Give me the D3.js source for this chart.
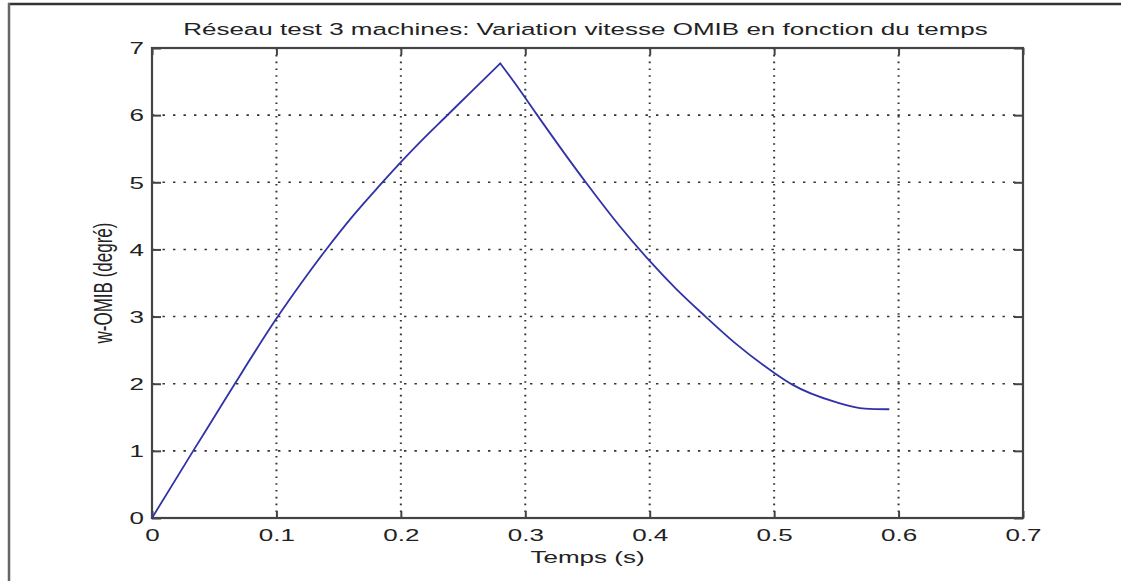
<!DOCTYPE html>
<html>
<head>
<meta charset="utf-8">
<script src="https://cdn.jsdelivr.net/npm/d3@7"></script>
<style>
  html, body { margin: 0; padding: 0; background: #fff; }
  svg { display: block; }
  text { font-family: "Liberation Sans", Arial, Helvetica, sans-serif; fill: #222; }
</style>
</head>
<body>
<svg id="chart" width="1121" height="581"></svg>
<script>
// OMIB speed deviation over time (3-machine test network)
const timeS = [0, 0.0331, 0.0519, 0.0666, 0.1, 0.12, 0.14, 0.1615, 0.1828, 0.2015, 0.2176,
  0.2363, 0.2577, 0.2799, 0.295, 0.3085, 0.3486, 0.3753, 0.3994, 0.4208, 0.4448, 0.4689,
  0.501, 0.5143, 0.549, 0.573, 0.592];
const omegaDeg = [0, 1.0, 1.56, 2.0, 2.97, 3.5, 4.0, 4.5, 4.95, 5.33, 5.64,
  5.98, 6.37, 6.77, 6.39, 6.03, 5.0, 4.36, 3.84, 3.42, 3.0, 2.6,
  2.15, 1.99, 1.73, 1.63, 1.62];

const xTicks = [0, 0.1, 0.2, 0.3, 0.4, 0.5, 0.6, 0.7];
const xTickLabels = ["0", "0.1", "0.2", "0.3", "0.4", "0.5", "0.6", "0.7"];
const yTicks = [0, 1, 2, 3, 4, 5, 6, 7];
const yTickLabels = ["0", "1", "2", "3", "4", "5", "6", "7"];

const titleText = "Réseau test 3 machines: Variation vitesse OMIB en fonction du temps";
const xLabelText = "Temps (s)";
const yLabelText = "w-OMIB (degré)";

// geometry
const W = 1121, H = 581;
const plot = { left: 152, right: 1023, top: 48, bottom: 518 };
const SX = 1.53;          // horizontal stretch applied to all lettering
const FS = 17;            // font size in px

const svg = d3.select("#chart");

// frame lines around the figure
svg.append("line").attr("x1", 8).attr("x2", W).attr("y1", 4).attr("y2", 4)
  .attr("stroke", "#333").attr("stroke-width", 2.5);
svg.append("line").attr("x1", 9).attr("x2", 9).attr("y1", 3).attr("y2", H)
  .attr("stroke", "#666").attr("stroke-width", 2.5);

const x = d3.scaleLinear().domain([0, 0.7]).range([plot.left, plot.right]);
const y = d3.scaleLinear().domain([0, 7]).range([plot.bottom, plot.top]);

// dotted grid
const grid = svg.append("g").attr("class", "grid");
grid.selectAll("line.v").data(xTicks.slice(1, -1)).join("line")
  .attr("class", "v")
  .attr("x1", d => x(d)).attr("x2", d => x(d))
  .attr("y1", plot.top).attr("y2", plot.bottom)
  .attr("stroke", "#333").attr("stroke-width", 2)
  .attr("stroke-dasharray", "1.6,5.2");
grid.selectAll("line.h").data(yTicks.slice(1, -1)).join("line")
  .attr("class", "h")
  .attr("x1", plot.left).attr("x2", plot.right)
  .attr("y1", d => y(d)).attr("y2", d => y(d))
  .attr("stroke", "#333").attr("stroke-width", 1.6)
  .attr("stroke-dasharray", "2.4,8.1");

// axes with inward ticks on all four sides
function styleAxis(g) {
  g.select(".domain").remove();
  g.selectAll(".tick line").attr("stroke", "#444").attr("stroke-width", 2);
}
const xAxisB = d3.axisBottom(x).tickValues(xTicks).tickSizeInner(-7).tickSizeOuter(0)
  .tickFormat((d, i) => xTickLabels[i]);
const xAxisT = d3.axisTop(x).tickValues(xTicks).tickSizeInner(-7).tickSizeOuter(0).tickFormat("");
const yAxisL = d3.axisLeft(y).tickValues(yTicks).tickSizeInner(-9).tickSizeOuter(0)
  .tickFormat((d, i) => yTickLabels[i]);
const yAxisR = d3.axisRight(y).tickValues(yTicks).tickSizeInner(-9).tickSizeOuter(0).tickFormat("");

const gB = svg.append("g").attr("transform", `translate(0,${plot.bottom})`).call(xAxisB).call(styleAxis);
svg.append("g").attr("transform", `translate(0,${plot.top})`).call(xAxisT).call(styleAxis);
const gL = svg.append("g").attr("transform", `translate(${plot.left},0)`).call(yAxisL).call(styleAxis);
svg.append("g").attr("transform", `translate(${plot.right},0)`).call(yAxisR).call(styleAxis);

gB.selectAll(".tick text")
  .attr("y", null).attr("dy", null)
  .attr("font-size", FS).attr("fill", "#222")
  .attr("text-anchor", "middle")
  .attr("transform", `translate(0,23) scale(${SX},1)`);
gL.selectAll(".tick text")
  .attr("x", null).attr("dy", null)
  .attr("font-size", FS).attr("fill", "#222")
  .attr("text-anchor", "end")
  .attr("dominant-baseline", "central")
  .attr("transform", `translate(-8,0) scale(${SX},1)`);
gB.attr("font-family", null).attr("font-size", null);
gL.attr("font-family", null).attr("font-size", null);

// axes box
svg.append("rect")
  .attr("x", plot.left).attr("y", plot.top)
  .attr("width", plot.right - plot.left).attr("height", plot.bottom - plot.top)
  .attr("fill", "none").attr("stroke", "#444").attr("stroke-width", 2.2);

// curve: rising and falling branches drawn separately so the peak stays sharp
const peakIdx = omegaDeg.indexOf(d3.max(omegaDeg));
const pts = timeS.map((t, i) => [t, omegaDeg[i]]);
const branches = [pts.slice(0, peakIdx + 1), pts.slice(peakIdx)];
const line = d3.line().x(d => x(d[0])).y(d => y(d[1])).curve(d3.curveMonotoneX);
svg.selectAll("path.omega").data(branches).join("path")
  .attr("class", "omega")
  .attr("d", line)
  .attr("fill", "none")
  .attr("stroke", "#3232a8")
  .attr("stroke-width", 1.8)
  .attr("stroke-linejoin", "round")
  .attr("stroke-linecap", "round");

// title and axis labels
const cx = (plot.left + plot.right) / 2;
svg.append("text")
  .attr("text-anchor", "middle").attr("font-size", FS)
  .attr("transform", `translate(${cx - 2},34.5) scale(${SX},1)`)
  .text(titleText);
svg.append("text")
  .attr("text-anchor", "middle").attr("font-size", FS)
  .attr("transform", `translate(${cx},563) scale(${SX},1)`)
  .text(xLabelText);
svg.append("text")
  .attr("text-anchor", "middle").attr("font-size", FS)
  .attr("transform", `translate(112,${(plot.top + plot.bottom) / 2}) scale(${SX},1) rotate(-90)`)
  .text(yLabelText);
</script>
</body>
</html>
